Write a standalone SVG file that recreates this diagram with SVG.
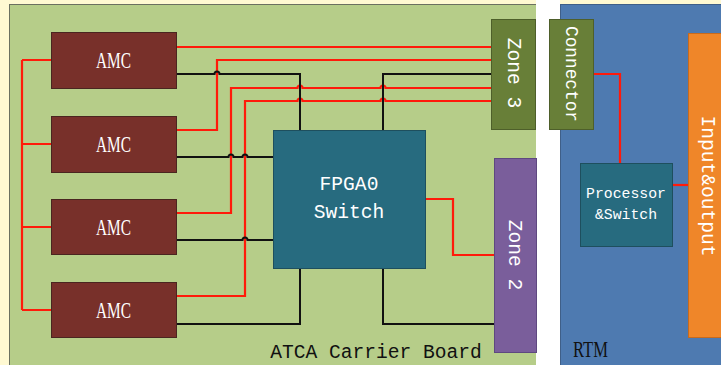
<svg xmlns="http://www.w3.org/2000/svg" width="721" height="365" viewBox="0 0 721 365">
<defs>
<style>
.amc{fill:#78302A;stroke:#4A2520;stroke-width:1}
.amct{fill:#fff;font-family:"Liberation Serif",serif;font-size:23px;text-anchor:middle}
.mono{font-family:"Liberation Mono","DejaVu Sans Mono",monospace;text-anchor:middle}
.wt{fill:#fff}
.red{fill:none;stroke:#FF1A0A;stroke-width:2.2}
.blk{fill:none;stroke:#111;stroke-width:2}
</style>
</defs>
<rect x="0" y="0" width="721" height="365" fill="#FFF9D2"/>
<g id="board">
<rect x="9.5" y="4.5" width="527" height="362" fill="#B6CD89" stroke="#6B7060" stroke-width="1"/>
<text x="376" y="358" class="mono" font-size="19.6" fill="#111">ATCA Carrier Board</text>
</g>
<rect x="536" y="0" width="24" height="365" fill="#FFFFFF"/>
<g id="rtm">
<rect x="560.5" y="4.5" width="162" height="362" fill="#4E7AB0" stroke="#3F5F88" stroke-width="1"/>
<text x="590.5" y="357" fill="#111" font-family="'Liberation Serif',serif" font-size="23" text-anchor="middle" textLength="35" lengthAdjust="spacingAndGlyphs">RTM</text>
</g>
<g id="connectors">
<path class="red" d="M22,60 V310 M22,60 H51 M22,144 H51 M22,227 H51 M22,310 H51"/>
<path class="red" d="M176,47 H491"/>
<path class="red" d="M176,130 H217 V60 H491"/>
<path class="red" d="M176,213 H231 V88 H297.5 a2.5,2.5 0 0 1 5,0 H380.5 a2.5,2.5 0 0 1 5,0 H491"/>
<path class="red" d="M176,296 H245 V101 H297.5 a2.5,2.5 0 0 1 5,0 H380.5 a2.5,2.5 0 0 1 5,0 H491"/>
<path class="red" d="M425,199 H453 V255 H494"/>
<path class="red" d="M593,74 H620 V163"/>
<path class="red" d="M672,185 H688"/>
<path class="blk" d="M176,74 H214.5 a2.5,2.5 0 0 1 5,0 H300 V130"/>
<path class="blk" d="M491,74 H383 V130"/>
<path class="blk" d="M176,157 H228.5 a2.5,2.5 0 0 1 5,0 H242.5 a2.5,2.5 0 0 1 5,0 H273"/>
<path class="blk" d="M176,240 H242.5 a2.5,2.5 0 0 1 5,0 H273"/>
<path class="blk" d="M176,324 H300 V268"/>
<path class="blk" d="M383,268 V324 H494"/>
</g>
<g id="amc1"><rect class="amc" x="51.5" y="32.5" width="125" height="56"/><text class="amct" x="113.5" y="68" textLength="35" lengthAdjust="spacingAndGlyphs">AMC</text></g>
<g id="amc2"><rect class="amc" x="51.5" y="116.5" width="125" height="56"/><text class="amct" x="113.5" y="152" textLength="35" lengthAdjust="spacingAndGlyphs">AMC</text></g>
<g id="amc3"><rect class="amc" x="51.5" y="199.5" width="125" height="55"/><text class="amct" x="113.5" y="235" textLength="35" lengthAdjust="spacingAndGlyphs">AMC</text></g>
<g id="amc4"><rect class="amc" x="51.5" y="282.5" width="125" height="55"/><text class="amct" x="113.5" y="318" textLength="35" lengthAdjust="spacingAndGlyphs">AMC</text></g>
<g id="fpga">
<rect x="273.5" y="130.5" width="152" height="138" fill="#276B7F" stroke="#1E4F5E" stroke-width="1"/>
<text x="349" y="190" class="mono wt" font-size="19.6">FPGA0</text>
<text x="349" y="218" class="mono wt" font-size="19.6">Switch</text>
</g>
<g id="zone3">
<rect x="491.5" y="19.5" width="44" height="110" fill="#687F38" stroke="#4E5F2A" stroke-width="1"/>
<text transform="translate(513,73) rotate(90)" class="mono wt" font-size="19.6" dominant-baseline="central">Zone 3</text>
</g>
<g id="zone2">
<rect x="494.5" y="158.5" width="42" height="194" fill="#7A5E9B" stroke="#5E4880" stroke-width="1"/>
<text transform="translate(514,255) rotate(90)" class="mono wt" font-size="19.6" dominant-baseline="central">Zone 2</text>
</g>
<g id="connector">
<rect x="549.5" y="19.5" width="44" height="110" fill="#687F38" stroke="#4E5F2A" stroke-width="1"/>
<text transform="translate(571,74) rotate(90)" class="mono wt" font-size="17.8" dominant-baseline="central">Connector</text>
</g>
<g id="processor">
<rect x="580.5" y="163.5" width="92" height="83" fill="#276B7F" stroke="#1E4F5E" stroke-width="1"/>
<text x="626" y="198" class="mono wt" font-size="14.8">Processor</text>
<text x="626" y="219" class="mono wt" font-size="14.8">&amp;Switch</text>
</g>
<g id="io">
<rect x="688.5" y="33.5" width="40" height="304" fill="#EF8629" stroke="#C86A1C" stroke-width="1"/>
<text transform="translate(707,186) rotate(90)" class="mono wt" font-size="19.6" dominant-baseline="central">Input&amp;output</text>
</g>
</svg>
